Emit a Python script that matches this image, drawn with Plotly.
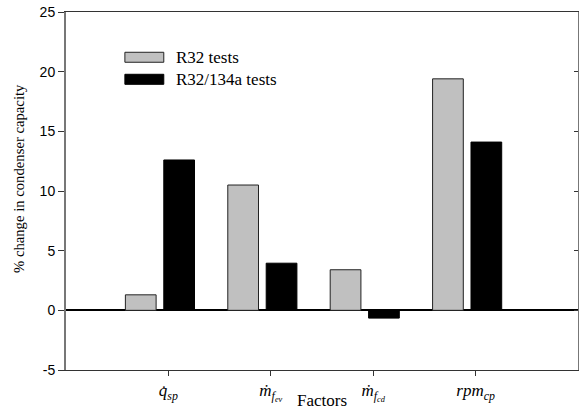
import plotly.graph_objects as go

# ---- data ----
categories = ["q_sp", "m_fev", "m_fcd", "rpm_cp"]
tick_labels = [
    "<i>q\u0307</i><sub><i>sp</i></sub>",
    "<i>\u1e41</i><sub><i>f<sub>ev</sub></i></sub>",
    "<i>\u1e41</i><sub><i>f<sub>cd</sub></i></sub>",
    "<i>rpm</i><sub><i>cp</i></sub>",
]
series_names = ["R32 tests", "R32/134a tests"]
r32_values = [1.3, 10.5, 3.4, 19.4]
r32_134a_values = [12.6, 3.95, -0.65, 14.1]
y_ticks = [-5, 0, 5, 10, 15, 20, 25]
y_tick_labels = ["-5", "0", "5", "10", "15", "20", "25"]

x_pos = list(range(1, len(categories) + 1))

serif = "Liberation Serif, Times New Roman, serif"
sans = "Liberation Sans, Arial, sans-serif"

fig = go.Figure()
fig.add_trace(go.Bar(
    x=x_pos, y=r32_values, name=series_names[0],
    width=0.3, offset=-0.42,
    marker=dict(color="#c0c0c0", line=dict(color="#222222", width=1)),
    showlegend=False,
))
fig.add_trace(go.Bar(
    x=x_pos, y=r32_134a_values, name=series_names[1],
    width=0.3, offset=-0.045,
    marker=dict(color="#000000", line=dict(color="#000000", width=1)),
    showlegend=False,
))
# invisible trace for right-side inward ticks
fig.add_trace(go.Scatter(x=[x_pos[0]], y=[0], yaxis="y2", mode="markers",
                         marker=dict(opacity=0), showlegend=False, hoverinfo="skip"))

fig.update_layout(
    width=579, height=417,
    margin=dict(l=66, r=1, t=12, b=47, autoexpand=False),
    paper_bgcolor="white", plot_bgcolor="white",
    barmode="overlay",
    xaxis=dict(
        range=[0, 5], tickvals=x_pos, ticktext=tick_labels,
        ticks="outside", ticklen=5, tickcolor="#333333",
        showline=True, linecolor="#333333", linewidth=1, mirror=True,
        showgrid=False, zeroline=False, automargin=False,
        tickfont=dict(family=serif, size=17, color="black"),
    ),
    yaxis=dict(
        range=[-5, 25], tickvals=y_ticks, ticktext=y_tick_labels,
        ticks="outside", ticklen=6, tickcolor="#333333",
        showline=True, linecolor="#777777", linewidth=2, mirror=True,
        showgrid=False, zeroline=True, zerolinecolor="black", zerolinewidth=1.5,
        automargin=False,
        tickfont=dict(family=sans, size=14, color="black"),
    ),
    yaxis2=dict(
        range=[-5, 25], tickvals=y_ticks, overlaying="y", side="right",
        ticks="inside", ticklen=4, tickcolor="#333333", automargin=False,
        showticklabels=False, showline=False, showgrid=False, zeroline=False,
    ),
    annotations=[
        dict(text="% change in condenser capacity", textangle=-90,
             xref="paper", yref="paper", x=-0.092, y=0.536,
             xanchor="center", yanchor="middle", showarrow=False,
             font=dict(family=serif, size=14.7, color="black")),
        dict(text="Factors", xref="paper", yref="paper", x=0.5, y=-0.085,
             xanchor="center", yanchor="middle", showarrow=False,
             font=dict(family=serif, size=17, color="black")),
        dict(text=series_names[0], xref="paper", yref="paper", x=0.211, y=0.8736,
             xanchor="left", yanchor="middle", showarrow=False,
             font=dict(family=serif, size=17, color="black")),
        dict(text=series_names[1], xref="paper", yref="paper", x=0.211, y=0.812,
             xanchor="left", yanchor="middle", showarrow=False,
             font=dict(family=serif, size=17, color="black")),
    ],
    shapes=[
        dict(type="rect", xref="paper", yref="paper", x0=0.115, x1=0.191,
             y0=0.8596, y1=0.8875, fillcolor="#c0c0c0",
             line=dict(color="#222222", width=1)),
        dict(type="rect", xref="paper", yref="paper", x0=0.115, x1=0.191,
             y0=0.798, y1=0.826, fillcolor="#000000",
             line=dict(color="#000000", width=1)),
    ],
)

# remove the page's default 8px body margin so the figure sits at (0, 0)
fig.write_html("out.html", config={"displayModeBar": False},
               post_script="document.body.style.margin='0';")
